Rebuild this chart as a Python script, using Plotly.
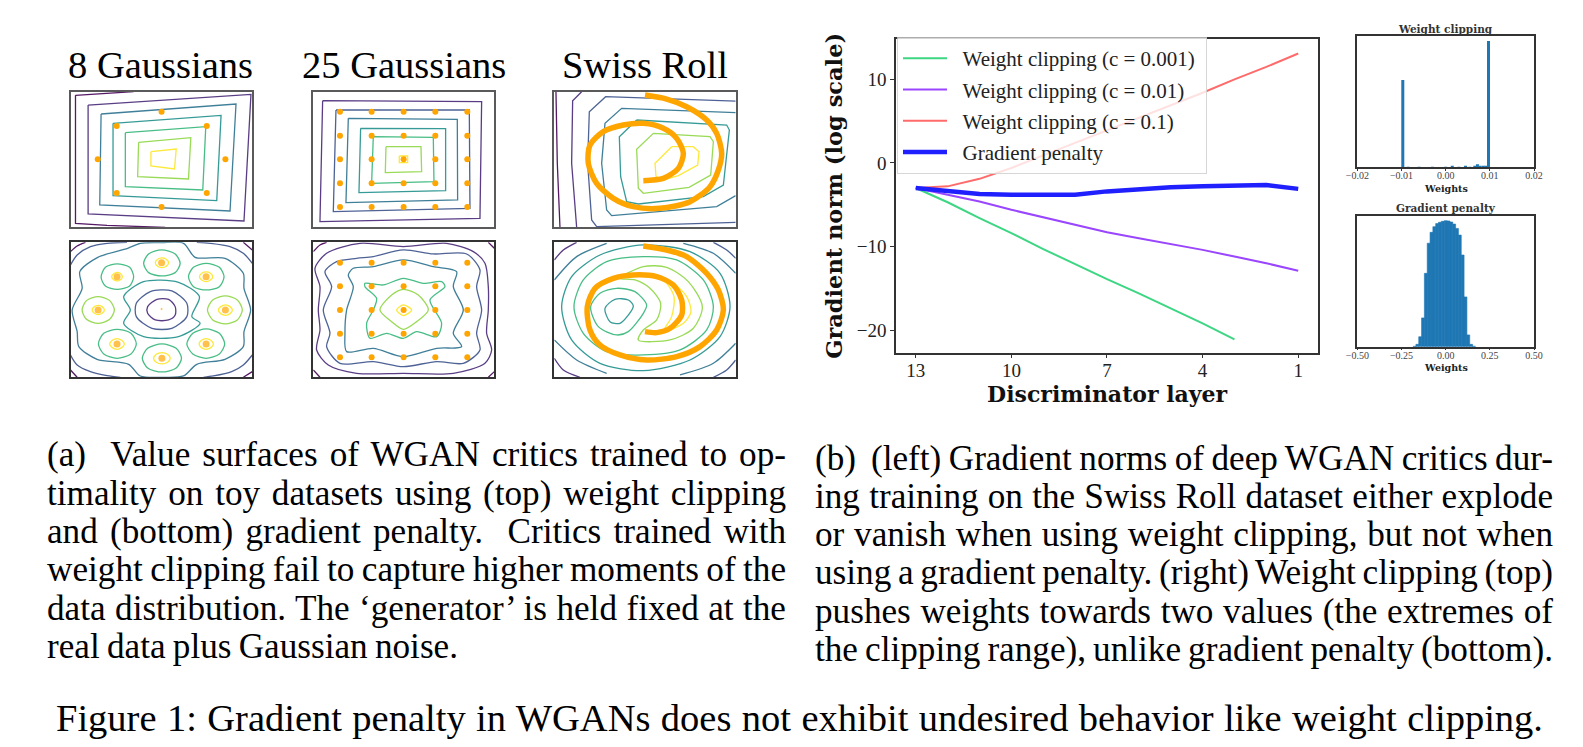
import json
import plotly.graph_objects as go

W, H = 1583, 747

# ---------- toy-data panels: contour traces ----------
VIRIDIS = ["#440154", "#482878", "#3b528b", "#2c728e", "#21918c", "#35b779", "#8fd744", "#fde725"]

A1_CONTOURS = [
    (0, [(105,196),(105,580),(200,586),(375,592)]),
    (0, [(105,196),(190,190),(280,185)]),
    (1, [(143,225),(633,193),(612,573),(143,552),(143,225)]),
    (3, [(182,252),(588,222),(570,543),(178,525),(182,252)]),
    (4, [(218,280),(543,256),(530,512),(218,497),(218,280)]),
    (5, [(255,308),(497,290),(488,480),(255,470),(255,308)]),
    (6, [(295,337),(452,323),(445,447),(292,440),(295,337)]),
    (7, [(332,365),(408,357),(403,417),(332,408),(332,365)]),
]
A1_X = [364,500,556,500,364,229,172,229]
A1_Y = [245,288,388,489,531,489,388,288]

A2_CONTOURS = [
    (1, [(848,212),(1325,215),(1320,565),(840,575),(848,212)]),
    (2, [(888,240),(1288,240),(1290,535),(880,545),(888,240)]),
    (3, [(925,265),(1252,268),(1253,510),(918,518),(925,265)]),
    (4, [(962,295),(1217,296),(1217,482),(957,488),(962,295)]),
    (5, [(1000,320),(1180,322),(1182,455),(995,460),(1000,320)]),
    (6, [(1038,350),(1143,350),(1145,425),(1036,428),(1038,350)]),
    (7, [(1078,378),(1103,378),(1103,398),(1078,398),(1078,378)]),
]
A2_X = [900,995,1091,1186,1282]*5
A2_Y = [245]*5+[317]*5+[388]*5+[460]*5+[531]*5

A3_CONTOURS = [
    (0, [(168,185),(172,400),(180,592)]),
    (1, [(245,185),(218,212),(215,400),(230,592)]),
    (2, [(707,213),(317,200),(268,245),(263,400),(275,570),(290,590),(707,577)]),
    (3, [(707,248),(365,235),(315,280),(305,400),(320,540),(335,557),(650,530),(707,497)]),
    (4, [(410,270),(680,285),(688,300),(670,465),(610,500),(415,522),(380,515),(362,440),(358,320),(410,270)]),
    (6, [(460,310),(630,320),(640,335),(632,435),(567,472),(430,490),(415,475),(410,358),(460,310)]),
    (7, [(515,350),(580,350),(597,365),(593,405),(535,437),(490,450),(468,440),(465,400),(515,350)]),
]
A3_ROLL = [(435,195),(500,207),(560,230),(620,270),(650,310),(665,370),(655,420),(630,470),(570,515),(480,535),
           (400,530),(340,505),(290,460),(265,400),(270,345),(310,305),(370,285),(430,280),(490,295),(530,325),
           (550,370),(535,415),(490,445),(430,452)]

B1_CONTOURS = [
    (0, [(90,665),(110,648),(135,637)]),
    (0, [(610,637),(637,660)]),
    (0, [(90,1020),(110,1042)]),
    (0, [(610,1042),(637,1025)]),
    (2, [(90,705),(110,675),(150,650),(200,640),(260,637)]),
    (2, [(637,700),(610,670),(570,650),(510,640),(470,637)]),
    (2, [(90,975),(110,1005),(150,1025),(200,1037),(240,1042)]),
    (2, [(637,975),(610,1005),(575,1025),(520,1038),(490,1042)]),
    (3, [(125,775),(118,725),(172,682),(262,655),(300,640),(365,638),(430,640),(465,682),(555,685),(610,730),
         (612,775),(632,840),(612,905),(610,950),(555,988),(470,1003),(430,1038),(365,1042),(300,1038),(265,1003),
         (170,988),(115,950),(110,905),(95,840),(125,775)]),
    (4, [(250,800),(310,755),(415,757),(478,800),(455,860),(480,880),(415,920),(310,920),(250,880),(270,840),(250,800)]),
    (2, [(288,820),(330,785),(395,783),(440,820),(440,860),(395,895),(335,895),(288,860),(288,820)]),
    (1, [(322,830),(350,808),(385,808),(405,830),(405,855),(385,870),(345,870),(322,850),(322,830)]),
    (5, [(310,700),(325,672),(364,660),(405,672),(420,700),(405,728),(364,738),(325,728),(310,700)]),
    (7, [(345,698),(352,688),(364,684),(378,688),(385,698),(378,709),(364,713),(352,709),(345,698)]),
    (5, [(182,742),(195,712),(230,702),(268,712),(280,740),(268,768),(230,778),(195,768),(182,742)]),
    (7, [(214,740),(220,731),(230,727),(241,731),(246,740),(241,749),(230,753),(220,749),(214,740)]),
    (5, [(445,740),(460,712),(498,700),(538,712),(552,740),(538,770),(498,780),(460,770),(445,740)]),
    (7, [(478,740),(485,730),(498,726),(511,730),(518,740),(511,750),(498,755),(485,750),(478,740)]),
    (6, [(125,840),(138,812),(173,800),(208,812),(222,840),(208,868),(173,880),(138,868),(125,840)]),
    (7, [(155,840),(162,830),(173,826),(185,830),(192,840),(185,850),(173,854),(162,850),(155,840)]),
    (6, [(502,840),(518,810),(556,798),(592,810),(607,840),(592,870),(556,882),(518,870),(502,840)]),
    (7, [(535,840),(542,830),(556,825),(570,830),(577,840),(570,851),(556,856),(542,851),(535,840)]),
    (5, [(174,942),(190,910),(230,898),(272,910),(288,942),(272,972),(230,985),(190,972),(174,942)]),
    (7, [(208,942),(216,931),(230,926),(244,931),(252,942),(244,953),(230,958),(216,953),(208,942)]),
    (5, [(440,942),(458,910),(498,897),(538,910),(554,942),(538,972),(498,985),(458,972),(440,942)]),
    (7, [(477,942),(484,931),(498,926),(512,931),(520,942),(512,953),(498,958),(484,953),(477,942)]),
    (5, [(306,985),(322,955),(365,942),(408,955),(424,985),(408,1014),(365,1026),(322,1014),(306,985)]),
    (7, [(340,985),(348,973),(365,968),(382,973),(390,985),(382,997),(365,1002),(348,997),(340,985)]),
]
B1_X = [364,230,498,173,556,230,498,365,364]
B1_Y = [698,740,740,840,840,942,942,985,837]
B1_S = [7,7,7,7,7,7,7,7,2]

B2_CONTOURS = [
    (0, [(820,665),(840,645),(860,637)]),
    (0, [(820,1020),(840,1042)]),
    (0, [(1345,637),(1363,655)]),
    (0, [(1345,1042),(1363,1025)]),
    (1, [(960,640),(1090,650),(1220,640),(1300,665),(1335,700),(1345,770),(1345,840),(1340,910),(1355,960),(1335,1000),
         (1240,1030),(1090,1030),(950,1030),(865,1005),(830,960),(840,900),(835,840),(840,770),(825,715),(860,670),(960,640)]),
    (2, [(890,695),(950,685),(1000,680),(1090,660),(1180,672),(1280,672),(1320,720),(1310,770),(1325,840),(1310,910),
         (1320,960),(1270,1000),(1190,995),(1090,1010),(1000,995),(900,1000),(860,950),(870,910),(850,840),(875,770),(855,725),(890,695)]),
    (3, [(940,715),(1000,710),(1090,690),(1180,710),(1250,725),(1240,770),(1270,840),(1240,910),(1265,950),(1190,955),
         (1090,980),(1000,955),(920,965),(915,910),(920,840),(940,770),(925,735),(940,715)]),
    (5, [(975,760),(1030,765),(1090,745),(1150,760),(1205,755),(1215,770),(1170,810),(1205,880),(1190,920),(1130,905),
         (1090,925),(1040,910),(990,925),(980,880),(1000,840),(1010,805),(975,770),(975,760)]),
    (6, [(1020,840),(1055,795),(1090,778),(1135,795),(1165,840),(1130,875),(1090,898),(1055,875),(1020,840)]),
    (7, [(1070,840),(1090,825),(1115,840),(1090,857),(1070,840)]),
]
B2_X = [900,995,1091,1186,1282]*5
B2_Y = [698]*5+[769]*5+[840]*5+[911]*5+[982]*5

B3_CONTOURS = [
    (1, [(163,690),(190,660),(230,637)]),
    (2, [(640,637),(680,660),(707,685)]),
    (1, [(163,985),(190,1020),(240,1042)]),
    (2, [(640,1042),(680,1020),(707,990)]),
    (3, [(163,750),(230,680),(320,640)]),
    (3, [(550,640),(640,670),(707,730)]),
    (3, [(707,940),(640,1000),(540,1035)]),
    (3, [(320,1030),(230,990),(163,930)]),
    (4, [(185,830),(215,740),(300,675),(430,645),(570,665),(660,730),(690,830),(660,920),(570,990),(430,1022),(300,1000),(215,930),(185,830)]),
    (5, [(222,830),(250,750),(320,695),(430,680),(530,690),(610,750),(640,830),(620,900),(540,960),(430,975),(320,965),(250,910),(222,830)]),
    (6, [(360,745),(430,710),(500,712),(565,755),(607,830),(580,895),(510,930),(415,930),(430,900),(470,870),(482,820),(450,775),(405,750),(360,745)]),
    (5, [(272,830),(300,790),(350,775),(405,785),(440,825),(430,850),(385,905),(350,915),(295,890),(272,830)]),
    (4, [(315,835),(345,808),(385,810),(400,828),(360,880),(330,875),(315,835)]),
    (7, [(475,745),(520,760),(560,800),(573,845),(550,880),(490,905),(515,860),(522,800),(500,760),(475,745)]),
]
B3_ROLL = [(430,648),(500,660),(560,680),(620,730),(655,780),(670,840),(650,900),(600,950),(530,980),(440,990),
           (360,975),(300,945),(270,900),(262,830),(285,775),(340,745),(400,735),(470,740),(520,765),(545,810),
           (545,855),(510,895),(470,908),(435,905)]

# ---------- main line chart ----------
LAYERS = [13,12,11,10,9,8,7,6,5,4,3,2,1]
C001 = [-3,-4.7,-6.6,-8.4,-10.3,-12.1,-13.9,-15.6,-17.4,-19.2,-21.1]
C01  = [-3,-3.8,-4.6,-5.6,-6.5,-7.4,-8.3,-9.0,-9.7,-10.4,-11.2,-12.0,-12.9]
C1   = [-3,-2.8,-1.9,-0.6,0.9,2.4,3.9,5.4,6.9,8.4,10.0,11.5,13.1]
GP   = [-3,-3.4,-3.7,-3.8,-3.8,-3.8,-3.4,-3.1,-2.9,-2.8,-2.7,-2.65,-3.1]

# ---------- weight histograms ----------
WC_X = [-0.0097,-0.0085,-0.006,-0.003,0.0,0.0015,0.003,0.0045,0.0055,0.0066,0.0072,0.0078,0.0085,0.0091,0.0097]
WC_H = [.663,.003,.002,.002,.004,.006,.004,.006,.004,.008,.024,.006,.008,.012,.96]
GP_X = [-0.176,-0.16,-0.144,-0.128,-0.112,-0.096,-0.08,-0.064,-0.048,-0.032,-0.016,0,0.016,0.032,0.048,0.064,0.08,0.096,0.112,0.128,0.144,0.16]
GP_H = [.003,.018,.076,.22,.56,.79,.873,.916,.94,.95,.957,.962,.96,.952,.936,.903,.852,.70,.38,.09,.018,.004]

LEFT_LINES = ["(a)\u00a0\u00a0Value surfaces of WGAN critics trained to op-",
              "timality on toy datasets using (top) weight clipping",
              "and (bottom) gradient penalty.\u00a0\u00a0Critics trained with",
              "weight clipping fail to capture higher moments of the",
              "data distribution. The \u2018generator\u2019 is held fixed at the",
              "real data plus Gaussian noise."]
RIGHT_LINES = ["(b)\u00a0\u00a0(left) Gradient norms of deep WGAN critics dur-",
               "ing training on the Swiss Roll dataset either explode",
               "or vanish when using weight clipping, but not when",
               "using a gradient penalty. (right) Weight clipping (top)",
               "pushes weights towards two values (the extremes of",
               "the clipping range), unlike gradient penalty (bottom)."]
FOOT = "Figure 1: Gradient penalty in WGANs does not exhibit undesired behavior like weight clipping."

SERIF = "Liberation Serif"
ORANGE = "#ffa500"
FRAME = "#333333"

fig = go.Figure()
layout_axes = {}
axis_count = 0

def new_axes(x0, x1, y0, y1, xr, yr, frame=FRAME, **xkw):
    """Axes whose frame covers pixels x0..x1, y0..y1 of the page."""
    global axis_count
    axis_count += 1
    n = "" if axis_count == 1 else str(axis_count)
    base = dict(showgrid=False, zeroline=False, showline=True, mirror=True,
                linecolor=frame, linewidth=1.5, fixedrange=True)
    xa = dict(base, domain=[x0/W, x1/W], range=xr, anchor="y"+n, showticklabels=False, ticks="")
    ya = dict(base, domain=[1-y1/H, 1-y0/H], range=yr, anchor="x"+n, showticklabels=False, ticks="")
    xa.update(xkw)
    layout_axes["xaxis"+n] = xa
    layout_axes["yaxis"+n] = ya
    return "x"+n, "y"+n

def toy_panel(x0, x1, y0, y1, xr, yr, contours, smooth=False, frame=FRAME):
    xa, ya = new_axes(x0, x1, y0, y1, xr, yr, frame=frame)
    for lvl, pts in contours:
        fig.add_trace(go.Scatter(
            x=[p[0] for p in pts], y=[p[1] for p in pts], mode="lines", xaxis=xa, yaxis=ya,
            showlegend=False, hoverinfo="skip", opacity=0.9,
            line=dict(color=VIRIDIS[lvl], width=1.3, shape="spline" if smooth else "linear", smoothing=0.8)))
    return xa, ya

def dots(xa, ya, xs, ys, sizes=6):
    fig.add_trace(go.Scatter(x=xs, y=ys, mode="markers", xaxis=xa, yaxis=ya, showlegend=False,
                             hoverinfo="skip", marker=dict(color=ORANGE, size=sizes, line=dict(width=0))))

def roll(xa, ya, pts):
    fig.add_trace(go.Scatter(x=[p[0] for p in pts], y=[p[1] for p in pts], mode="lines", xaxis=xa, yaxis=ya,
                             showlegend=False, hoverinfo="skip",
                             line=dict(color=ORANGE, width=5.5, shape="spline", smoothing=0.8)))

TOP = (91.7, 227.3)
BOT = (242.3, 377.3)
XA = (70.5, 252.3); XB = (313.3, 494.3); XC = (554.3, 735.7)
RA = [90, 637]; RB = [820, 1363]; RC = [163, 707]
RT = [592, 185]; RL = [1042, 637]
GREY = "#5a5a5a"

a, b = toy_panel(*XA, *TOP, RA, RT, A1_CONTOURS, frame=GREY); dots(a, b, A1_X, A1_Y)
a, b = toy_panel(*XB, *TOP, RB, RT, A2_CONTOURS, frame=GREY); dots(a, b, A2_X, A2_Y)
a, b = toy_panel(*XC, *TOP, RC, RT, A3_CONTOURS, frame=GREY); roll(a, b, A3_ROLL)
a, b = toy_panel(*XA, *BOT, RA, RL, B1_CONTOURS, True); dots(a, b, B1_X, B1_Y, B1_S)
a, b = toy_panel(*XB, *BOT, RB, RL, B2_CONTOURS, True); dots(a, b, B2_X, B2_Y)
a, b = toy_panel(*XC, *BOT, RC, RL, B3_CONTOURS, True); roll(a, b, B3_ROLL)

# main chart
tickfont = dict(family=SERIF, size=19, color="#222")
a, b = new_axes(896, 1318.3, 39, 352.7, [13.62, 0.37], [-22.7, 14.83],
                showticklabels=True, ticks="outside", ticklen=4, tickcolor=FRAME, tickwidth=1,
                tickvals=[13,10,7,4,1], tickfont=tickfont, ticklabelstandoff=-4,
                title=dict(text="Discriminator layer", standoff=4,
                           font=dict(family="DejaVu Serif", size=22, weight="bold", color="#111")))
n = "" if axis_count == 1 else str(axis_count)
layout_axes["yaxis"+n].update(showticklabels=True, ticks="outside", ticklen=4, tickcolor=FRAME, tickwidth=1,
                              tickvals=[10,0,-10,-20], tickfont=tickfont,
                              title=dict(text="Gradient norm (log scale)", standoff=8,
                                         font=dict(family="DejaVu Serif", size=22.5, weight="bold", color="#111")))
PAD = "\u00a0\u00a0"
for name, tail, vals, col, wd in [("Weight clipping (c = 0.001)", "\u00a0", C001, "#3dd683", 2),
                                  ("Weight clipping (c = 0.01)", "", C01, "#9a45ff", 2),
                                  ("Weight clipping (c = 0.1)", "", C1, "#ff6b6b", 2),
                                  ("Gradient penalty", "", GP, "#2020ff", 4.5)]:
    fig.add_trace(go.Scatter(x=LAYERS[:len(vals)], y=vals, mode="lines", name=PAD+name+tail, legendgroup=name,
                             xaxis=a, yaxis=b, line=dict(color=col, width=wd)))

small = dict(family=SERIF, size=10, color="#444")
a, b = new_axes(1357.3, 1534, 35.7, 167.3, [-0.02, 0.02], [0, 1], showticklabels=True, ticks="outside", ticklen=2,
                tickcolor=FRAME, tickvals=[-0.02,-0.01,0,0.01,0.02], tickformat=".2f", tickfont=small, ticklabelstandoff=-4)
fig.add_trace(go.Bar(x=WC_X, y=WC_H, width=0.00068, xaxis=a, yaxis=b, showlegend=False,
                     marker=dict(color="#1f77b4", line=dict(width=0))))
a, b = new_axes(1357.3, 1534, 215.7, 346.7, [-0.5, 0.5], [0, 1], showticklabels=True, ticks="outside", ticklen=2,
                tickcolor=FRAME, tickvals=[-0.5,-0.25,0,0.25,0.5], tickformat=".2f", tickfont=small, ticklabelstandoff=-3)
fig.add_trace(go.Bar(x=GP_X, y=GP_H, width=0.0166, xaxis=a, yaxis=b, showlegend=False,
                     marker=dict(color="#1f77b4", line=dict(color="#1f77b4", width=0.6))))

annotations = []
def label(text, x, y, size, family=SERIF, anchor="left", weight="normal", color="#000"):
    annotations.append(dict(text=text, x=x/W, y=1-y/H, xref="paper", yref="paper", showarrow=False,
                            xanchor=anchor, yanchor="middle", align=anchor,
                            font=dict(family=family, size=size, weight=weight, color=color)))

label("8 Gaussians", 160.7, 65, 38.5, anchor="center")
label("25 Gaussians", 403.5, 65, 38.5, anchor="center")
label("Swiss Roll", 645, 65, 38.5, anchor="center")
label("Weight clipping", 1445.7, 29, 10.5, "DejaVu Serif", "center", "bold", "#333")
label("Gradient penalty", 1445.7, 208, 10.5, "DejaVu Serif", "center", "bold", "#333")
label("Weights", 1445.7, 188, 9.5, "DejaVu Serif", "center", "bold", "#222")
label("Weights", 1445.7, 367, 9.5, "DejaVu Serif", "center", "bold", "#222")

fit = {}
LEFT_Y = [454, 493, 531, 569.5, 608, 646]
RIGHT_Y = [458, 496.5, 534.5, 572.5, 611, 649]
LEFT_W = [739]*5 + [411]
RIGHT_W = [738]*6
for t, y, w in zip(LEFT_LINES, LEFT_Y, LEFT_W):
    label(t, 45, y, 35.2); fit[t] = w
for t, y, w in zip(RIGHT_LINES, RIGHT_Y, RIGHT_W):
    label(t, 813, y, 35.2); fit[t] = w
label(FOOT, 54, 718, 38.5); fit[FOOT] = 1487

fig.update_layout(
    width=W, height=H, margin=dict(l=0, r=0, t=0, b=0, autoexpand=False), paper_bgcolor="white", plot_bgcolor="white",
    annotations=annotations, barmode="overlay", hovermode=False,
    legend=dict(x=897/W, y=1-37/H, xanchor="left", yanchor="top", bgcolor="rgba(255,255,255,0.8)",
                bordercolor="rgba(204,204,204,0.8)", borderwidth=1, itemwidth=44, tracegroupgap=1,
                traceorder="grouped", font=dict(family=SERIF, size=21, color="#222")),
    **layout_axes)

# Page margin off, and the caption lines are justified to their measured widths.
post = """
document.body.style.margin='0';
var fit=%s;
document.querySelectorAll('.annotation-text').forEach(function(t){
  var s=t.textContent; if(!(s in fit)) return;
  var n=(s.match(/[ \\u00a0]/g)||[]).length; if(!n) return;
  var w=t.getComputedTextLength();
  t.style.wordSpacing=((fit[s]-w)/n)+'px';
});
""" % json.dumps(fit)
fig.write_html("out.html", post_script=post, config=dict(displayModeBar=False))
